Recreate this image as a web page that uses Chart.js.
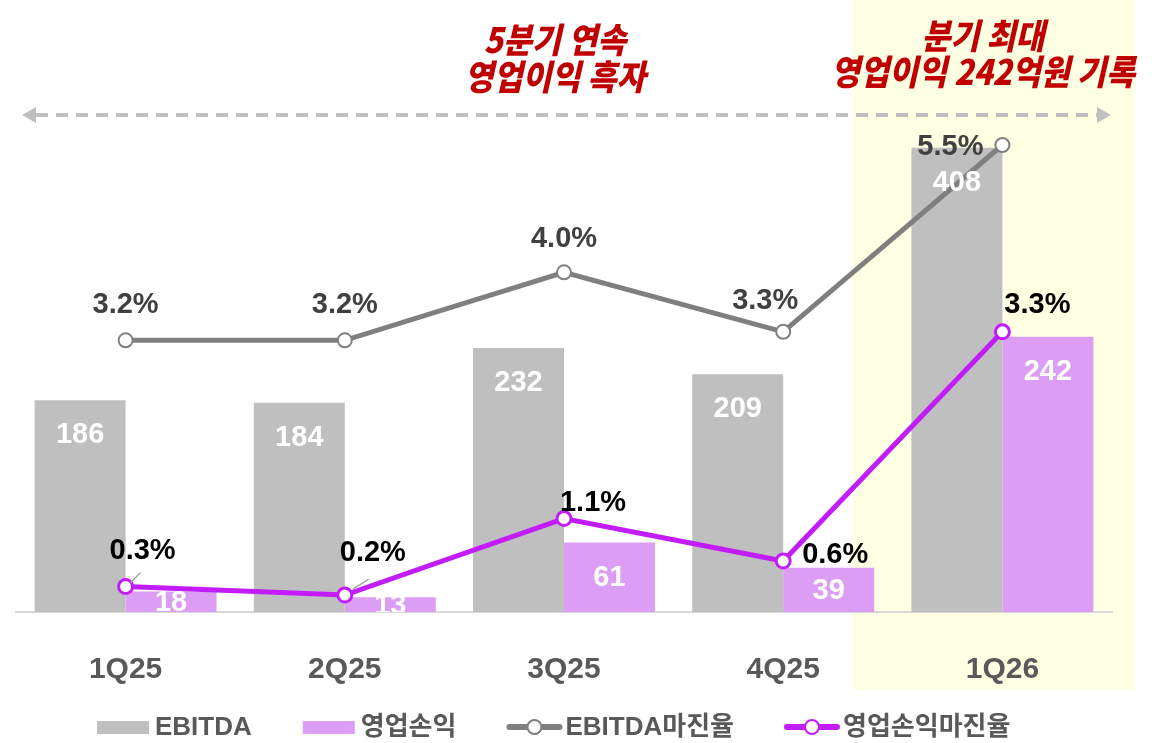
<!DOCTYPE html>
<html><head><meta charset="utf-8">
<script src="https://cdn.jsdelivr.net/npm/chart.js@4.4.1/dist/chart.umd.min.js"></script>
<style>html,body{margin:0;padding:0;background:#fff;} #wrap{width:1161px;height:743px;position:relative;}</style>
</head><body><div id="wrap"><canvas id="c"></canvas></div>
<script>
const categories = ['1Q25', '2Q25', '3Q25', '4Q25', '1Q26'];
const ebitda = [186, 184, 232, 209, 408];
const opProfit = [18, 13, 61, 39, 242];
const ebitdaMargin = [3.2, 3.2, 4.0, 3.3, 5.5];
const opMargin = [0.3, 0.2, 1.1, 0.6, 3.3];
const seriesNames = ['EBITDA', '영업손익', 'EBITDA마진율', '영업손익마진율'];
const noteLeft = ['5분기 연속', '영업이익 흑자'];
const noteRight = ['분기 최대', '영업이익 242억원 기록'];

const FONT_LAT = "'Liberation Sans', Arial, 'Noto Sans CJK KR', sans-serif";
const FONT_KR = "'Noto Sans CJK KR', 'Liberation Sans', sans-serif";
const C_GRAY_BAR = '#BFBFBF', C_LILAC = '#DC9DF4', C_GRAY_LINE = '#7F7F7F', C_PURPLE = '#C31CFA';

const ebitdaLabelOffsets = [[0,-35],[0,-35],[0,-33],[-18,-31],[-52,2]];
const opLabelOffsets = [[17,-36],[28,-42],[29,-16],[52,-6],[35,-27]];

const decor = {
  id: 'decor',
  beforeDraw(chart) {
    const ctx = chart.ctx;
    ctx.save();
    ctx.fillStyle = '#FFFFE3';
    ctx.fillRect(853, 0, 282, 690);
    ctx.restore();
  },
  afterDatasetsDraw(chart) {
    const ctx = chart.ctx, ca = chart.chartArea;
    [0, 1].forEach(di => {
      const meta = chart.getDatasetMeta(di);
      const vals = chart.data.datasets[di].data;
      ctx.save();
      ctx.beginPath();
      ctx.rect(ca.left, ca.top, ca.right - ca.left, ca.bottom - ca.top);
      ctx.clip();
      ctx.font = 'bold 29px ' + FONT_LAT;
      ctx.fillStyle = '#FFFFFF';
      ctx.textAlign = 'center';
      ctx.textBaseline = 'middle';
      meta.data.forEach((el, i) => {
        const h = el.base - el.y;
        const off = Math.min(34, h / 2);
        ctx.fillText(String(vals[i]), el.x, el.y + off + 1);
      });
      ctx.restore();
    });

    ctx.save();
    ctx.font = 'bold 29px ' + FONT_LAT;
    ctx.textAlign = 'center';
    ctx.textBaseline = 'middle';
    const m2 = chart.getDatasetMeta(2);
    m2.data.forEach((pt, i) => {
      ctx.fillStyle = '#404040';
      const o = ebitdaLabelOffsets[i];
      ctx.fillText(ebitdaMargin[i].toFixed(1) + '%', pt.x + o[0], pt.y + o[1]);
    });
    const m3 = chart.getDatasetMeta(3);
    ctx.strokeStyle = '#A6A6A6';
    ctx.lineWidth = 1.5;
    [[0, 5, -4, 15, -14], [1, 8, -6, 24, -16]].forEach(l => {
      const pt = m3.data[l[0]];
      ctx.beginPath();
      ctx.moveTo(pt.x + l[1], pt.y + l[2]);
      ctx.lineTo(pt.x + l[3], pt.y + l[4]);
      ctx.stroke();
    });
    m3.data.forEach((pt, i) => {
      ctx.fillStyle = '#000000';
      const o = opLabelOffsets[i];
      ctx.fillText(opMargin[i].toFixed(1) + '%', pt.x + o[0], pt.y + o[1]);
    });
    ctx.restore();
  },
  afterDraw(chart) {
    const ctx = chart.ctx;
    ctx.save();
    ctx.strokeStyle = '#BFBFBF';
    ctx.fillStyle = '#BFBFBF';
    ctx.lineWidth = 4;
    ctx.setLineDash([12, 8]);
    ctx.beginPath();
    ctx.moveTo(36, 115);
    ctx.lineTo(1098, 115);
    ctx.stroke();
    ctx.setLineDash([]);
    ctx.beginPath();
    ctx.moveTo(22, 115); ctx.lineTo(36, 107); ctx.lineTo(36, 123); ctx.closePath(); ctx.fill();
    ctx.beginPath();
    ctx.moveTo(1111, 115); ctx.lineTo(1097, 107); ctx.lineTo(1097, 123); ctx.closePath(); ctx.fill();

    const drawNote = (lines, cx, ys) => {
      lines.forEach((t, i) => {
        ctx.save();
        ctx.translate(cx, ys[i]);
        ctx.scale(0.9, 1);
        ctx.font = 'italic 900 35px ' + FONT_KR;
        ctx.fillStyle = '#C00000';
        ctx.textAlign = 'center';
        ctx.textBaseline = 'middle';
        ctx.fillText(t, 0, 0);
        ctx.restore();
      });
    };
    drawNote(noteLeft, 555, [40, 77]);
    drawNote(noteRight, 983, [36, 72]);

    const ly = 727;
    let x = 97;
    ctx.font = 'bold 26px ' + FONT_LAT;
    ctx.textBaseline = 'middle';
    ctx.textAlign = 'left';
    const syms = [
      {type: 'rect', color: C_GRAY_BAR},
      {type: 'rect', color: C_LILAC},
      {type: 'line', color: C_GRAY_LINE},
      {type: 'line', color: C_PURPLE}
    ];
    seriesNames.forEach((name, i) => {
      const s = syms[i];
      if (s.type === 'rect') {
        ctx.fillStyle = s.color;
        ctx.fillRect(x, ly - 6, 52, 13);
      } else {
        ctx.strokeStyle = s.color;
        ctx.lineWidth = 6;
        ctx.lineCap = 'round';
        ctx.beginPath();
        ctx.moveTo(x + 2, ly); ctx.lineTo(x + 52, ly);
        ctx.stroke();
        ctx.beginPath();
        ctx.arc(x + 27, ly, 7, 0, Math.PI * 2);
        ctx.fillStyle = '#FFFFFF';
        ctx.fill();
        ctx.lineWidth = 2;
        ctx.stroke();
      }
      ctx.fillStyle = '#595959';
      ctx.fillText(name, x + 58, ly + 1);
      x += 58 + ctx.measureText(name).width + 51;
    });
    ctx.restore();
  }
};

new Chart(document.getElementById('c'), {
  type: 'bar',
  data: {
    labels: categories,
    datasets: [
      { type: 'bar', label: seriesNames[0], data: ebitda, backgroundColor: C_GRAY_BAR, yAxisID: 'y', order: 2,
        categoryPercentage: 0.83, barPercentage: 1.0 },
      { type: 'bar', label: seriesNames[1], data: opProfit, backgroundColor: C_LILAC, yAxisID: 'y', order: 2,
        categoryPercentage: 0.83, barPercentage: 1.0 },
      { type: 'line', label: seriesNames[2], data: ebitdaMargin, borderColor: C_GRAY_LINE, borderWidth: 5,
        pointRadius: 7, pointBackgroundColor: '#FFFFFF', pointBorderColor: C_GRAY_LINE, pointBorderWidth: 2,
        yAxisID: 'y1', order: 1, tension: 0 },
      { type: 'line', label: seriesNames[3], data: opMargin, borderColor: C_PURPLE, borderWidth: 5,
        pointRadius: 7, pointBackgroundColor: '#FFFFFF', pointBorderColor: C_PURPLE, pointBorderWidth: 3,
        yAxisID: 'y1', order: 0, tension: 0 }
    ]
  },
  options: {
    responsive: true,
    maintainAspectRatio: false,
    animation: false,
    devicePixelRatio: 1,
    layout: { padding: { left: 16, right: 49, top: 100, bottom: 15 } },
    plugins: { legend: { display: false }, tooltip: { enabled: false } },
    scales: {
      x: {
        grid: { display: false, drawTicks: false },
        border: { display: true, color: '#D9D9D9', width: 2 },
        ticks: { color: '#595959', font: { family: FONT_LAT, size: 30, weight: 'bold' }, padding: 40 }
      },
      y: { display: false, min: 0, max: 450 },
      y1: { display: false, min: 0, max: 6.03, position: 'right' }
    }
  },
  plugins: [decor]
});
</script>
</body></html>
